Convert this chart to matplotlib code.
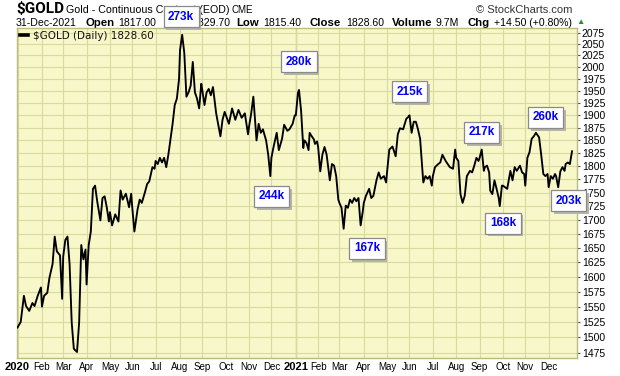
import numpy as np
import pandas as pd
import matplotlib
matplotlib.use("Agg")
import matplotlib.pyplot as plt
import matplotlib.patheffects as pe
from matplotlib.ticker import FixedLocator, NullLocator

# closes, roughly every other session, grouped by month
n_2020 = [9, 9, 11, 11, 9, 10, 12, 11, 11, 8, 10, 10]
gold_2020 = [
    1516, 1525, 1568, 1551, 1543, 1556, 1551, 1568, 1582,
    1550, 1568, 1573, 1598, 1622, 1670, 1644, 1637, 1563,
    1635, 1664, 1670, 1622, 1524, 1482, 1477, 1524, 1655, 1630, 1647,
    1587, 1655, 1679, 1757, 1763, 1734, 1699, 1740, 1743, 1723, 1697,
    1714, 1690, 1710, 1697, 1754, 1737, 1748, 1723, 1748,
    1723, 1679, 1719, 1737, 1731, 1751, 1766, 1771, 1798, 1795,
    1810, 1804, 1816, 1807, 1816, 1798, 1822, 1853, 1883, 1921, 1934, 1974,
    2037, 2070, 2030, 1938, 1947, 1961, 2011, 1947, 1934, 1914, 1965,
    1951, 1921, 1947, 1954, 1941, 1958, 1904, 1881, 1858, 1891, 1907,
    1901, 1883, 1914, 1891, 1911, 1895, 1904, 1862,
    1878, 1904, 1938, 1850, 1883, 1865, 1872, 1850, 1822, 1781,
    1816, 1837, 1865, 1831, 1853, 1881, 1869, 1872, 1883, 1900,
]
n_2021 = [13, 10, 12, 10, 9, 11, 10, 11, 13, 10, 11, 13]
gold_2021 = [
    1900, 1946, 1952, 1908, 1835, 1850, 1845, 1831, 1865, 1858, 1852, 1843, 1848,
    1837, 1790, 1822, 1837, 1822, 1773, 1804, 1801, 1781, 1737,
    1731, 1722, 1684, 1726, 1722, 1737, 1731, 1740, 1734, 1740, 1690, 1715,
    1731, 1744, 1757, 1740, 1744, 1774, 1788, 1776, 1781, 1769,
    1791, 1832, 1838, 1819, 1862, 1874, 1872, 1893, 1897,
    1900, 1865, 1887, 1887, 1872, 1853, 1769, 1781, 1776, 1781, 1763,
    1781, 1798, 1804, 1807, 1822, 1810, 1804, 1798, 1795, 1832,
    1816, 1810, 1747, 1731, 1744, 1781, 1791, 1788, 1801, 1816, 1810,
    1816, 1832, 1791, 1798, 1801, 1788, 1754, 1747, 1773, 1757, 1740, 1725, 1763,
    1763, 1760, 1757, 1791, 1773, 1798, 1791, 1801, 1788, 1785,
    1763, 1816, 1827, 1853, 1858, 1865, 1856, 1822, 1785, 1781, 1785,
    1760, 1781, 1776, 1785, 1781, 1760, 1790, 1798, 1791, 1804, 1807, 1804, 1828.6,
]

# volume call-outs
vol_labels = ["273k", "280k", "244k", "215k", "167k", "217k", "168k", "260k", "203k"]
vol_dates = ["2020-08-04", "2021-01-06", "2020-12-01", "2021-06-01", "2021-04-06",
             "2021-09-03", "2021-10-01", "2021-11-26", "2021-12-28"]
vol_levels = [2110, 2011, 1743, 1948, 1649, 1866, 1694, 1896, 1735]

y_ticks = list(range(1475, 2076, 25))

START = "2020-01-01"


def month_dates(year, counts):
    out = []
    for m, n in enumerate(counts, start=1):
        first = pd.Timestamp(year=year, month=m, day=1)
        days = pd.bdate_range(first, first + pd.offsets.MonthEnd(0))
        pick = np.linspace(0, len(days) - 1, n).round().astype(int)
        out.extend(days[pick])
    return out


def session(d):
    return np.busday_count(START, np.datetime64(pd.Timestamp(d).date()))


dates = month_dates(2020, n_2020) + month_dates(2021, n_2021)
closes = gold_2020 + gold_2021
xs = np.array([session(d) for d in dates])

BG = "#F8F7C9"
GRID = "#D8DBA0"
FRAME = "#B9BE80"
SANS = ["Liberation Sans", "DejaVu Sans"]

W, H = 620, 376
fig = plt.figure(figsize=(W / 100, H / 100), dpi=100)
fig.patch.set_facecolor("white")
ax = fig.add_axes([17 / W, 18 / H, 560 / W, 330 / H])
ax.set_zorder(5)
ax.set_facecolor(BG)

ax.plot(xs, closes, color="black", lw=1.35, solid_joinstyle="round",
        label="\\$GOLD (Daily) 1828.60", zorder=3)

ax.set_yscale("log")
ax.set_ylim(1467.6, 2085)
ax.set_xlim(-0.5, 526.7)

ax.yaxis.set_major_locator(FixedLocator(y_ticks))
ax.yaxis.set_minor_locator(NullLocator())
ax.set_yticklabels([str(t) for t in y_ticks])
ax.yaxis.tick_right()
ax.tick_params(axis="y", length=2.5, width=0.8, color="#555555", pad=1,
               labelsize=7.5)
for t in ax.get_yticklabels():
    t.set_family(SANS)

# month starts on the session axis
month_starts = pd.date_range("2020-01-01", "2021-12-01", freq="MS")
mpos = [session(pd.bdate_range(m, periods=1)[0]) for m in month_starts]
mlabels = [str(m.year) if m.month == 1 else m.strftime("%b") for m in month_starts]
ax.xaxis.set_major_locator(FixedLocator(mpos))
ax.xaxis.set_minor_locator(NullLocator())
ax.set_xticklabels(mlabels)
ax.tick_params(axis="x", length=0, pad=3)
for t, m in zip(ax.get_xticklabels(), month_starts):
    t.set_family(SANS)
    if m.month == 1:
        t.set_fontweight("bold")
        t.set_fontsize(8)
    else:
        t.set_fontsize(7)

ax.grid(True, color=GRID, lw=0.8, zorder=0)
ax.set_axisbelow(True)
ax.axvline(mpos[12], color="#C4C88A", lw=1.0, zorder=0.5)
for s in ax.spines.values():
    s.set_color(FRAME)
    s.set_linewidth(1)

leg = ax.legend(loc="upper left", frameon=False, fontsize=7.5, handlelength=0.8,
                handletextpad=0.5, borderaxespad=0.15, borderpad=0.1)
leg.get_lines()[0].set_linewidth(2.6)
for t in leg.get_texts():
    t.set_color("#111111")

# volume boxes with a soft shadow
for lab, d, lvl in zip(vol_labels, vol_dates, vol_levels):
    t = ax.text(session(d), lvl, lab, ha="center", va="center", fontsize=8.5,
                fontweight="bold", family=SANS, color="#0000FF",
                bbox=dict(boxstyle="square,pad=0.38", fc="white", ec="#8A8A8A", lw=0.9),
                clip_on=False, zorder=7)
    t.get_bbox_patch().set_path_effects([
        pe.SimplePatchShadow(offset=(2, -2), shadow_rgbFace="#B4B4A8", alpha=1),
        pe.Normal(),
    ])


def ftext(x, y, s, **kw):
    kw.setdefault("family", SANS)
    kw.setdefault("va", "center")
    return fig.text(x / W, 1 - y / H, s, **kw)


# header line 1
ftext(16, 9, "\\$GOLD", fontsize=11, fontweight="bold",
      family=["Roboto", "Liberation Sans"])
ftext(66, 10, "Gold - Continuous Contract (EOD)", fontsize=7.7)
ftext(232, 10, "CME", fontsize=7)
ftext(572, 10, "\u00a9 StockCharts.com", fontsize=8, ha="right", color="#333333")

# header line 2
header2 = [
    ("31-Dec-2021", 16, "normal"), ("Open", 86, "bold"), ("1817.00", 118, "normal"),
    ("High", 163, "bold"), ("1829.70", 192, "normal"), ("Low", 236, "bold"),
    ("1815.40", 263, "normal"), ("Close", 310, "bold"), ("1828.60", 346, "normal"),
    ("Volume", 392, "bold"), ("9.7M", 436, "normal"), ("Chg", 468, "bold"),
    ("+14.50 (+0.80%)", 494, "normal"),
]
for s, x, w in header2:
    ftext(x, 23, s, fontsize=8.2 if w == "bold" else 7.6, fontweight=w)
ftext(576, 22, "\u25b2", fontsize=6, color="#2E8B2E")

fig.savefig("out.png", dpi=100)
